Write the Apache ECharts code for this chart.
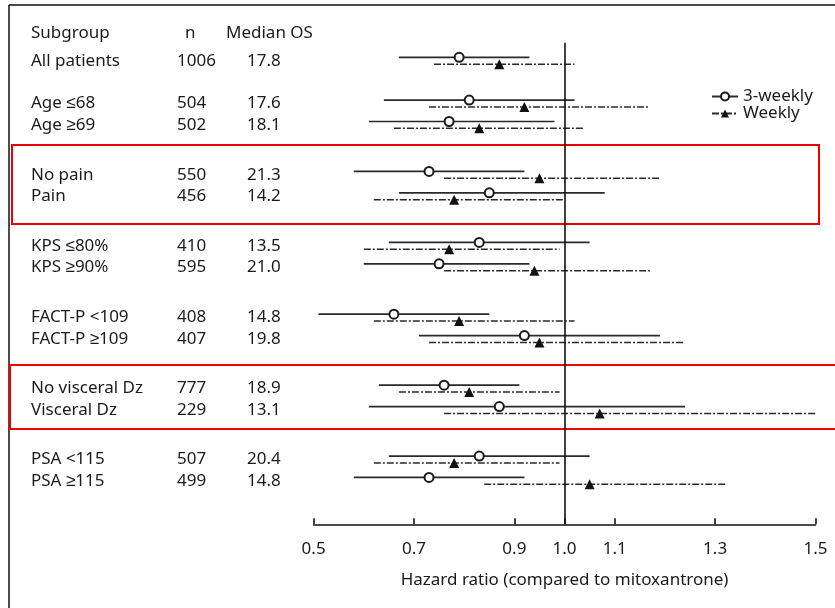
<!DOCTYPE html>
<html>
    <head>
        <meta charset="UTF-8" />
        <script src="https://cdn.jsdelivr.net/npm/echarts@6/dist/echarts.min.js"></script>
        <style>
            html, body { margin: 0; padding: 0; background: #fff; }
        </style>
    </head>
    <body>
        <div id="container" style="width: 835px; height: 608px;"></div>
        <script>
            // subgroup table
            var subgroups = ['All patients', 'Age \u226468', 'Age \u226569', 'No pain', 'Pain',
                'KPS \u226480%', 'KPS \u226590%', 'FACT-P <109', 'FACT-P \u2265109',
                'No visceral Dz', 'Visceral Dz', 'PSA <115', 'PSA \u2265115'];
            var nPatients = ['1006', '504', '502', '550', '456', '410', '595', '408', '407', '777', '229', '507', '499'];
            var medianOS = ['17.8', '17.6', '18.1', '21.3', '14.2', '13.5', '21.0', '14.8', '19.8', '18.9', '13.1', '20.4', '14.8'];
            // row slot of each subgroup (blank space separates the groups)
            var rowSlot = [0, 2, 3, 5.33, 6.33, 8.65, 9.65, 12, 13, 15.32, 16.32, 18.63, 19.63];

            // hazard ratios, 3-weekly docetaxel
            var hr3 = [0.79, 0.81, 0.77, 0.73, 0.85, 0.83, 0.75, 0.66, 0.92, 0.76, 0.87, 0.83, 0.73];
            var lo3 = [0.67, 0.64, 0.61, 0.58, 0.67, 0.65, 0.60, 0.51, 0.71, 0.63, 0.61, 0.65, 0.58];
            var hi3 = [0.93, 1.02, 0.98, 0.92, 1.08, 1.05, 0.93, 0.85, 1.19, 0.91, 1.24, 1.05, 0.92];
            // hazard ratios, weekly docetaxel
            var hrW = [0.87, 0.92, 0.83, 0.95, 0.78, 0.77, 0.94, 0.79, 0.95, 0.81, 1.07, 0.78, 1.05];
            var loW = [0.74, 0.73, 0.66, 0.76, 0.62, 0.60, 0.76, 0.62, 0.73, 0.67, 0.76, 0.62, 0.84];
            var hiW = [1.02, 1.17, 1.04, 1.19, 1.00, 0.99, 1.17, 1.02, 1.24, 0.99, 1.51, 0.99, 1.32];

            var xTicks = [0.5, 0.7, 0.9, 1.0, 1.1, 1.3, 1.5];

            var FONT = '"Noto Sans", sans-serif';
            var FS = 17;
            var INK = '#1a1a1a';
            var weeklyShift = 0.32;   // weekly bar sits just below the 3-weekly bar
            var textShift = 0.16;
            var Y_MIN = -1.5, Y_MAX = 21.82;

            function ciData(lo, hr, hi, shift) {
                var out = [];
                for (var i = 0; i < hr.length; i++) {
                    var y = rowSlot[i] + shift;
                    out.push({ value: [lo[i], y], symbol: 'none' });
                    out.push({ value: [hr[i], y] });
                    out.push({ value: [hi[i], y], symbol: 'none' });
                    out.push('-');
                }
                return out;
            }

            // header row + one row per subgroup
            var tableRows = [{ slot: -1.31, cells: ['Subgroup', 'n', 'Median OS'], header: true }];
            for (var i = 0; i < subgroups.length; i++) {
                tableRows.push({ slot: rowSlot[i], cells: [subgroups[i], nPatients[i], medianOS[i]], header: false });
            }

            var chart = echarts.init(document.getElementById('container'));
            var option = {
                animation: false,
                backgroundColor: '#fff',
                grid: { left: 313.6, right: 19.5, top: 25.2, bottom: 83.7 },
                legend: {
                    data: ['3-weekly', 'Weekly'],
                    orient: 'vertical',
                    left: 706,
                    top: 83,
                    itemWidth: 26,
                    itemHeight: 10,
                    itemGap: 0,
                    selectedMode: false,
                    textStyle: { fontFamily: FONT, fontSize: FS, color: INK }
                },
                xAxis: {
                    type: 'value',
                    min: 0.5,
                    max: 1.5,
                    interval: 0.1,
                    splitLine: { show: false },
                    axisLine: { onZero: false, lineStyle: { color: '#111', width: 1.6 } },
                    axisTick: { inside: true, length: 6, customValues: xTicks, lineStyle: { color: '#111', width: 1.6 } },
                    axisLabel: {
                        customValues: xTicks,
                        margin: 16,
                        fontFamily: FONT, fontSize: FS, color: INK,
                        formatter: function (v) { return v.toFixed(1); }
                    },
                    name: 'Hazard ratio (compared to mitoxantrone)',
                    nameLocation: 'middle',
                    nameGap: 47,
                    nameTextStyle: { fontFamily: FONT, fontSize: FS, color: INK }
                },
                yAxis: {
                    type: 'value',
                    inverse: true,
                    min: Y_MIN,
                    max: Y_MAX,
                    show: false
                },
                series: [
                    {
                        name: '3-weekly',
                        type: 'line',
                        data: ciData(lo3, hr3, hi3, 0),
                        symbol: 'emptyCircle',
                        symbolSize: 9,
                        connectNulls: false,
                        itemStyle: { color: '#1a1a1a', borderWidth: 1.4 },
                        lineStyle: { color: '#2a2a2a', width: 1.7 },
                        z: 3,
                        markLine: {
                            silent: true,
                            symbol: 'none',
                            label: { show: false },
                            lineStyle: { color: '#111', width: 1.6, type: 'solid' },
                            data: [[{ coord: [1.0, -0.68] }, { coord: [1.0, Y_MAX] }]]
                        }
                    },
                    {
                        name: 'Weekly',
                        type: 'line',
                        data: ciData(loW, hrW, hiW, weeklyShift),
                        symbol: 'triangle',
                        symbolSize: 10,
                        connectNulls: false,
                        itemStyle: { color: '#111' },
                        lineStyle: { color: '#2a2a2a', width: 1.5, type: [7, 2, 2, 2] },
                        z: 3
                    },
                    {
                        name: 'table',
                        type: 'custom',
                        clip: false,
                        silent: true,
                        data: tableRows.map(function (r) { return [r.slot]; }),
                        renderItem: function (params, api) {
                            var row = tableRows[params.dataIndex];
                            var y = api.coord([0.5, api.value(0) + textShift])[1];
                            var xs = row.header ? [31, 185, 226] : [31, 177, 247];
                            return {
                                type: 'group',
                                children: row.cells.map(function (t, k) {
                                    return {
                                        type: 'text', x: xs[k], y: y,
                                        style: { text: t, align: 'left', verticalAlign: 'middle', fontFamily: FONT, fontSize: FS, fill: INK }
                                    };
                                })
                            };
                        }
                    }
                ],
                graphic: [
                    { type: 'line', shape: { x1: 9, y1: 5, x2: 835, y2: 5 }, style: { stroke: '#111', lineWidth: 1.5 } },
                    { type: 'line', shape: { x1: 9, y1: 5, x2: 9, y2: 608 }, style: { stroke: '#111', lineWidth: 1.5 } },
                    { type: 'rect', shape: { x: 12, y: 145, width: 807, height: 79 }, style: { fill: 'none', stroke: '#ee0000', lineWidth: 2 } },
                    { type: 'rect', shape: { x: 10, y: 365, width: 840, height: 64 }, style: { fill: 'none', stroke: '#ee0000', lineWidth: 2 } }
                ]
            };
            chart.setOption(option);
        </script>
    </body>
</html>
